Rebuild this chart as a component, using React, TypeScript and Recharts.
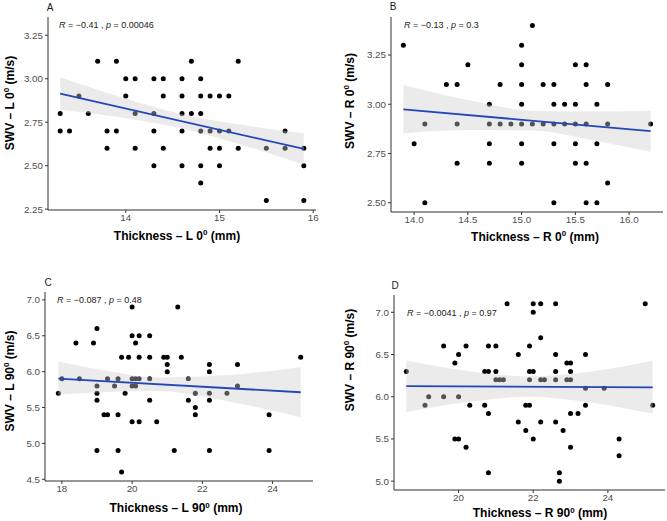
import React from 'react';
import { ComposedChart, Scatter, Area, Line, XAxis, YAxis } from 'recharts';

// Panel A: thickness L 0°
const thickL0 = [13.3, 13.3, 13.4, 13.5, 13.6, 13.7, 13.8, 13.8, 13.9, 13.9, 14.0, 14.0, 14.1, 14.1, 14.1, 14.3, 14.3, 14.3, 14.3, 14.4, 14.4, 14.4, 14.6, 14.6, 14.6, 14.6, 14.6, 14.7, 14.7, 14.8, 14.8, 14.8, 14.8, 14.8, 14.8, 14.9, 14.9, 14.9, 15.0, 15.0, 15.0, 15.0, 15.1, 15.1, 15.2, 15.2, 15.5, 15.5, 15.7, 15.7, 15.9, 15.9, 15.9];
const swvL0 = [2.8, 2.7, 2.7, 2.9, 2.8, 3.1, 2.7, 2.6, 3.1, 2.7, 3.0, 2.9, 3.0, 2.8, 2.6, 3.0, 2.8, 2.7, 2.5, 3.0, 2.9, 2.6, 3.0, 2.9, 2.8, 2.7, 2.5, 3.1, 2.8, 3.0, 2.9, 2.8, 2.7, 2.5, 2.4, 2.9, 2.7, 2.6, 2.9, 2.7, 2.6, 2.5, 2.9, 2.7, 3.1, 2.6, 2.6, 2.3, 2.7, 2.6, 2.6, 2.5, 2.3];
const fitL0X = [13.3, 15.9];
const fitL0Y = [2.915, 2.596];
const bandL0X = [13.3, 13.95, 14.6, 15.25, 15.9];
const bandL0Lo = [2.822, 2.777, 2.714, 2.618, 2.506];
const bandL0Hi = [3.008, 2.893, 2.796, 2.734, 2.686];
const xTicksA = ['14', '15', '16'];
const yTicksA = ['2.25', '2.50', '2.75', '3.00', '3.25'];

// Panel B: thickness R 0°
const thickR0 = [13.9, 14.0, 14.1, 14.1, 14.3, 14.4, 14.4, 14.4, 14.5, 14.7, 14.7, 14.7, 14.7, 14.8, 14.8, 14.9, 15.0, 15.0, 15.0, 15.0, 15.0, 15.0, 15.0, 15.1, 15.1, 15.2, 15.2, 15.3, 15.3, 15.3, 15.3, 15.3, 15.4, 15.4, 15.5, 15.5, 15.5, 15.5, 15.5, 15.6, 15.6, 15.6, 15.6, 15.6, 15.7, 15.7, 15.7, 15.8, 15.8, 15.8, 16.2];
const swvR0 = [3.3, 2.8, 2.9, 2.5, 3.1, 3.1, 2.9, 2.7, 3.2, 3.0, 2.9, 2.8, 2.7, 3.1, 2.9, 2.9, 3.3, 3.2, 3.1, 3.0, 2.9, 2.8, 2.7, 3.4, 2.9, 3.1, 2.9, 3.1, 3.0, 2.9, 2.8, 2.5, 3.0, 2.9, 3.2, 3.0, 2.9, 2.8, 2.7, 3.2, 3.1, 2.9, 2.7, 2.5, 3.0, 2.8, 2.5, 3.1, 2.9, 2.6, 2.9];
const fitR0X = [13.9, 16.2];
const fitR0Y = [2.974, 2.864];
const bandR0X = [13.9, 14.5, 15.1, 15.65, 16.2];
const bandR0Lo = [2.852, 2.869, 2.867, 2.819, 2.759];
const bandR0Hi = [3.098, 3.021, 2.967, 2.963, 2.967];
const xTicksB = ['14.0', '14.5', '15.0', '15.5', '16.0'];
const yTicksB = ['2.50', '2.75', '3.00', '3.25'];

// Panel C: thickness L 90°
const thickL90 = [17.9, 18.0, 18.4, 18.5, 18.9, 19.0, 19.0, 19.0, 19.0, 19.0, 19.2, 19.3, 19.3, 19.5, 19.6, 19.6, 19.6, 19.7, 19.7, 19.8, 19.9, 20.0, 20.0, 20.0, 20.0, 20.0, 20.1, 20.1, 20.1, 20.2, 20.2, 20.2, 20.2, 20.5, 20.5, 20.5, 20.5, 20.7, 20.9, 21.0, 21.0, 21.0, 21.2, 21.3, 21.4, 21.6, 21.6, 21.8, 21.8, 21.8, 22.2, 22.2, 22.2, 22.2, 22.2, 22.7, 23.0, 23.0, 23.9, 23.9, 24.8];
const swvL90 = [5.7, 5.9, 6.4, 5.9, 6.4, 6.6, 5.8, 5.7, 5.6, 4.9, 5.4, 5.4, 5.9, 5.8, 5.9, 5.4, 4.9, 6.2, 4.6, 5.7, 6.2, 6.9, 6.5, 5.9, 5.8, 5.3, 6.4, 5.9, 5.8, 6.5, 6.2, 5.9, 5.3, 6.5, 6.2, 5.9, 5.6, 5.3, 6.2, 6.2, 6.1, 6.0, 4.9, 6.9, 6.2, 5.9, 5.6, 5.7, 5.5, 5.4, 6.1, 6.0, 5.7, 5.6, 4.9, 5.7, 6.1, 5.8, 5.4, 4.9, 6.2];
const fitL90X = [17.9, 24.8];
const fitL90Y = [5.902, 5.713];
const bandL90X = [17.9, 19.3, 20.7, 22.75, 24.8];
const bandL90Lo = [5.68, 5.716, 5.73, 5.585, 5.364];
const bandL90Hi = [6.14, 6.008, 5.92, 5.953, 6.061];
const xTicksC = ['18', '20', '22', '24'];
const yTicksC = ['4.5', '5.0', '5.5', '6.0', '6.5', '7.0'];

// Panel D: thickness R 90°
const thickR90 = [18.6, 19.1, 19.2, 19.6, 19.6, 19.9, 19.9, 20.0, 20.0, 20.0, 20.2, 20.2, 20.3, 20.7, 20.7, 20.8, 20.8, 20.8, 20.8, 21.0, 21.0, 21.0, 21.1, 21.2, 21.3, 21.6, 21.6, 21.8, 21.8, 21.9, 21.9, 21.9, 21.9, 22.0, 22.0, 22.0, 22.0, 22.2, 22.2, 22.2, 22.2, 22.3, 22.6, 22.6, 22.6, 22.6, 22.6, 22.7, 22.7, 22.8, 22.9, 22.9, 23.0, 23.0, 23.0, 23.0, 23.0, 23.2, 23.4, 23.4, 23.4, 23.9, 24.3, 24.3, 25.0, 25.2];
const swvR90 = [6.3, 5.9, 6.0, 6.6, 6.0, 6.4, 5.5, 6.5, 6.0, 5.5, 6.6, 5.4, 5.9, 6.3, 5.9, 6.6, 6.3, 5.8, 5.1, 6.6, 6.3, 6.2, 6.2, 6.2, 7.1, 6.5, 5.7, 5.9, 5.6, 6.6, 6.3, 6.2, 5.9, 7.1, 7.0, 6.3, 5.5, 7.1, 6.7, 6.2, 5.7, 6.2, 7.1, 6.5, 6.3, 6.2, 5.7, 5.1, 5.0, 5.6, 6.4, 6.2, 6.4, 6.3, 6.2, 5.8, 5.4, 5.8, 6.5, 6.1, 5.9, 6.1, 5.5, 5.3, 7.1, 5.9];
const fitR90X = [18.6, 25.2];
const fitR90Y = [6.126, 6.11];
const bandR90X = [18.6, 20.25, 21.9, 23.55, 25.2];
const bandR90Lo = [5.82, 5.938, 6.0, 5.93, 5.8];
const bandR90Hi = [6.43, 6.306, 6.24, 6.298, 6.43];
const xTicksD = ['20', '22', '24'];
const yTicksD = ['5.0', '5.5', '6.0', '6.5', '7.0'];

const FONT = '"Liberation Sans", Arial, Helvetica, sans-serif';
const YW = 40; // y axis width
const XH = 22; // x axis height
const MT = 5;
const MR = 6;

const toPoints = (xs: number[], ys: number[]) => xs.map((x, i) => ({ x, y: ys[i] }));
const toBand = (xs: number[], lo: number[], hi: number[]) =>
  xs.map((x, i) => ({ x, band: [lo[i], hi[i]] }));

const panels = [
  {
    id: 'A', points: toPoints(thickL0, swvL0), fit: toPoints(fitL0X, fitL0Y), band: toBand(bandL0X, bandL0Lo, bandL0Hi),
    xTicks: xTicksA, yTicks: yTicksA, xDomain: [13.17, 16.03], yDomain: [2.245, 3.355],
    x0: 48, x1: 316, y0: 17, y1: 210,
    side: 'L', angle: '0', r: '\u22120.41', p: '0.00046',
    letter: [50, 7], stat: [59, 27.5], xTitle: [177, 239.5], yTitle: [10, 103],
  },
  {
    id: 'B', points: toPoints(thickR0, swvR0), fit: toPoints(fitR0X, fitR0Y), band: toBand(bandR0X, bandR0Lo, bandR0Hi),
    xTicks: xTicksB, yTicks: yTicksB, xDomain: [13.785, 16.315], yDomain: [2.453, 3.443],
    x0: 391, x1: 663, y0: 17, y1: 212,
    side: 'R', angle: '0', r: '\u22120.13', p: '0.3',
    letter: [393, 6], stat: [404, 28], xTitle: [535, 240.5], yTitle: [350, 101],
  },
  {
    id: 'C', points: toPoints(thickL90, swvL90), fit: toPoints(fitL90X, fitL90Y), band: toBand(bandL90X, bandL90Lo, bandL90Hi),
    xTicks: xTicksC, yTicks: yTicksC, xDomain: [17.52, 25.15], yDomain: [4.476, 7.11],
    x0: 45, x1: 313, y0: 292, y1: 481,
    side: 'L', angle: '90', r: '\u22120.087', p: '0.48',
    letter: [48, 282], stat: [57, 302.5], xTitle: [176, 512], yTitle: [10, 381],
  },
  {
    id: 'D', points: toPoints(thickR90, swvR90), fit: toPoints(fitR90X, fitR90Y), band: toBand(bandR90X, bandR90Lo, bandR90Hi),
    xTicks: xTicksD, yTicks: yTicksD, xDomain: [18.27, 25.53], yDomain: [4.895, 7.205],
    x0: 394, x1: 665, y0: 295, y1: 490,
    side: 'R', angle: '90', r: '\u22120.0041', p: '0.97',
    letter: [395, 285], stat: [407, 315.5], xTitle: [540, 517], yTitle: [350, 360],
  },
];

type PanelCfg = (typeof panels)[number];

const Dot = (props: any) => <circle cx={props.cx} cy={props.cy} r={2.5} fill="#000" />;

const tickStyle = { fontSize: 9.8, fill: '#4d4d4d', fontFamily: FONT };

const Title = ({ main, angle, unit }: { main: string; angle: string; unit: string }) => (
  <>
    <tspan>{main} </tspan>
    <tspan>{angle}</tspan>
    <tspan dy={-4.5} fontSize={8}>0</tspan>
    <tspan dy={4.5}> {unit}</tspan>
  </>
);

// axes are drawn once in the base chart; the overlay reuses the same scales but hides them
const axes = (cfg: PanelCfg, visible: boolean) => [
  <XAxis
    key="x"
    type="number"
    dataKey="x"
    domain={cfg.xDomain}
    allowDataOverflow
    ticks={cfg.xTicks.map(Number)}
    tickFormatter={(v: number) => cfg.xTicks.find((t) => Number(t) === v) ?? String(v)}
    interval={0}
    height={XH}
    tick={visible ? tickStyle : false}
    tickSize={3}
    tickMargin={1}
    axisLine={visible ? { stroke: '#1a1a1a', strokeWidth: 0.9 } : false}
    tickLine={visible ? { stroke: '#333' } : false}
  />,
  <YAxis
    key="y"
    type="number"
    domain={cfg.yDomain}
    allowDataOverflow
    ticks={cfg.yTicks.map(Number)}
    tickFormatter={(v: number) => cfg.yTicks.find((t) => Number(t) === v) ?? String(v)}
    interval={0}
    width={YW}
    tick={visible ? tickStyle : false}
    tickSize={3}
    tickMargin={2}
    axisLine={visible ? { stroke: '#1a1a1a', strokeWidth: 0.9 } : false}
    tickLine={visible ? { stroke: '#333' } : false}
  />,
];

const Panel = ({ cfg }: { cfg: PanelCfg }) => {
  const width = cfg.x1 - cfg.x0 + YW + MR;
  const height = cfg.y1 - cfg.y0 + MT + XH;
  const margin = { top: MT, right: MR, left: 0, bottom: 0 };
  return (
    <div style={{ position: 'absolute', left: cfg.x0 - YW, top: cfg.y0 - MT, width, height }}>
      <ComposedChart width={width} height={height} margin={margin}>
        {axes(cfg, true)}
        <Scatter data={cfg.points} dataKey="y" shape={Dot} isAnimationActive={false} />
      </ComposedChart>
      <div style={{ position: 'absolute', left: 0, top: 0 }}>
        <ComposedChart width={width} height={height} margin={margin}>
          {axes(cfg, false)}
          <Area
            data={cfg.band}
            dataKey="band"
            type="monotone"
            stroke="none"
            fill="#cccccc"
            fillOpacity={0.4}
            isAnimationActive={false}
          />
          <Line
            data={cfg.fit}
            dataKey="y"
            type="linear"
            stroke="#2447b8"
            strokeWidth={1.8}
            dot={false}
            isAnimationActive={false}
          />
        </ComposedChart>
      </div>
    </div>
  );
};

export default function App() {
  return (
    <div
      style={{
        position: 'absolute',
        left: 0,
        top: 0,
        width: 667,
        height: 521,
        background: '#fff',
        fontFamily: FONT,
        overflow: 'hidden',
      }}
    >
      {panels.map((p) => (
        <Panel key={p.id} cfg={p} />
      ))}
      <svg
        width={667}
        height={521}
        style={{ position: 'absolute', left: 0, top: 0, pointerEvents: 'none' }}
        fontFamily={FONT}
      >
        {panels.map((p) => (
          <g key={p.id}>
            <text x={p.letter[0]} y={p.letter[1]} fontSize={10} textAnchor="middle" dominantBaseline="central" fill="#1a1a1a">
              {p.id}
            </text>
            <text x={p.stat[0]} y={p.stat[1]} fontSize={9} fill="#1a1a1a">
              <tspan fontStyle="italic">R</tspan>
              <tspan>{` = ${p.r} , `}</tspan>
              <tspan fontStyle="italic">p</tspan>
              <tspan>{` = ${p.p}`}</tspan>
            </text>
            <text x={p.xTitle[0]} y={p.xTitle[1]} fontSize={12} fontWeight="bold" textAnchor="middle" fill="#000">
              <Title main={`Thickness \u2013 ${p.side}`} angle={p.angle} unit="(mm)" />
            </text>
            <text
              transform={`translate(${p.yTitle[0]},${p.yTitle[1]}) rotate(-90)`}
              fontSize={12}
              fontWeight="bold"
              textAnchor="middle"
              dominantBaseline="central"
              fill="#000"
            >
              <Title main={`SWV \u2013 ${p.side}`} angle={p.angle} unit="(m/s)" />
            </text>
          </g>
        ))}
      </svg>
    </div>
  );
}
